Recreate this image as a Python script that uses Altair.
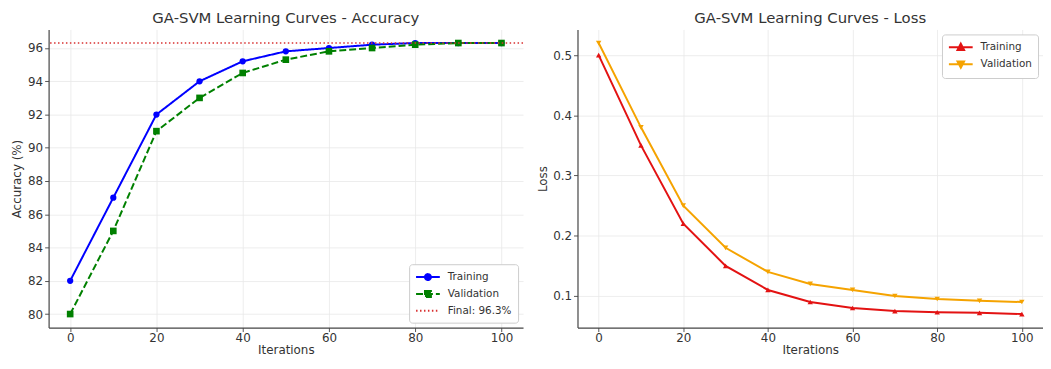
import altair as alt
import pandas as pd

# ---------------- data ----------------
iterations = [0, 10, 20, 30, 40, 50, 60, 70, 80, 90, 100]
acc_train = [82.0, 87.0, 92.0, 94.0, 95.2, 95.8, 96.0, 96.2, 96.3, 96.3, 96.3]
acc_val = [80.0, 85.0, 91.0, 93.0, 94.5, 95.3, 95.8, 96.0, 96.2, 96.3, 96.3]
final_acc = [96.3]
loss_train = [0.50, 0.35, 0.22, 0.15, 0.11, 0.09, 0.08, 0.075, 0.073, 0.072, 0.07]
loss_val = [0.52, 0.38, 0.25, 0.18, 0.14, 0.12, 0.11, 0.10, 0.095, 0.092, 0.09]

x_ticks = [0, 20, 40, 60, 80, 100]
acc_ticks = [80, 82, 84, 86, 88, 90, 92, 94, 96]
loss_ticks = [0.1, 0.2, 0.3, 0.4, 0.5]

acc_series = ["Training", "Validation", "Final: 96.3%"]
loss_series = ["Training", "Validation"]

FONT = "DejaVu Sans"
TXT = "#333333"

acc_df = pd.DataFrame({
    "it": iterations * 2,
    "value": acc_train + acc_val,
    "series": ["Training"] * len(iterations) + ["Validation"] * len(iterations),
})
final_df = pd.DataFrame({"value": final_acc, "series": [acc_series[2]]})
loss_df = pd.DataFrame({
    "it": iterations * 2,
    "value": loss_train + loss_val,
    "series": ["Training"] * len(iterations) + ["Validation"] * len(iterations),
})

# legend glyphs: line segment + marker (path units scaled by sqrt(size)/2)
P_CIRCLE = "M-1,0H3M1.5,0A0.5,0.5,0,1,1,0.5,0A0.5,0.5,0,1,1,1.5,0Z"
P_SQUARE = "M-1,0H3M0.5,-0.5H1.5V0.5H0.5Z"
P_LINE = "M-1,0H3"
P_TUP = "M-1,0H3M1,-0.6L1.55,0.45H0.45Z"
P_TDOWN = "M-1,0H3M1,0.6L1.55,-0.45H0.45Z"

PLOT_H = 301


def make_legend(orient):
    return alt.Legend(
        title=None, orient=orient, offset=5, padding=6,
        fillColor="white", strokeColor="#cccccc", cornerRadius=3,
        labelFont=FONT, labelFontSize=10.5, labelColor=TXT,
        labelOffset=19, symbolSize=144, symbolStrokeWidth=2,
        rowPadding=3,
    )


x_enc = alt.X("it:Q", title="Iterations",
              scale=alt.Scale(domain=[-5, 105], nice=False, zero=False),
              axis=alt.Axis(values=x_ticks))

# ---------------- accuracy panel ----------------
acc_colors = ["#0000ff", "#008000", "#d83030"]
acc_dash = [[1, 0], [7, 3], [1.5, 2.5]]
acc_y = alt.Y("value:Q", title="Accuracy (%)",
              scale=alt.Scale(domain=[79.185, 97.115], nice=False, zero=False),
              axis=alt.Axis(values=acc_ticks, minExtent=21, maxExtent=21, titlePadding=4))
acc_leg = make_legend("bottom-right")
acc_color = alt.Color("series:N", scale=alt.Scale(domain=acc_series, range=acc_colors), legend=acc_leg)
acc_sdash = alt.StrokeDash("series:N", scale=alt.Scale(domain=acc_series, range=acc_dash), legend=acc_leg)
acc_shape = alt.Shape("series:N", scale=alt.Scale(domain=acc_series, range=[P_CIRCLE, P_SQUARE, P_LINE]), legend=acc_leg)

base_acc = alt.Chart(acc_df)
acc_lines = base_acc.mark_line(strokeWidth=2).encode(x=x_enc, y=acc_y, color=acc_color, strokeDash=acc_sdash)
acc_pts_t = base_acc.transform_filter(alt.datum.series == "Training").mark_point(
    shape="circle", filled=True, size=40, opacity=1).encode(x=x_enc, y=acc_y, color=acc_color)
acc_pts_v = base_acc.transform_filter(alt.datum.series == "Validation").mark_point(
    shape="square", filled=True, size=45, opacity=1).encode(x=x_enc, y=acc_y, color=acc_color)
acc_rule = alt.Chart(final_df).mark_rule(strokeWidth=1.6).encode(
    y=acc_y, color=acc_color, strokeDash=acc_sdash)
acc_legend_layer = base_acc.transform_filter("false").mark_point(filled=True, opacity=1).encode(
    x=x_enc, y=acc_y, color=acc_color, strokeDash=acc_sdash, shape=acc_shape)

acc_chart = alt.layer(acc_lines, acc_pts_t, acc_pts_v, acc_rule, acc_legend_layer).properties(
    width=479, height=PLOT_H,
    title=alt.TitleParams("GA-SVM Learning Curves - Accuracy", font=FONT, fontSize=15,
                          fontWeight="normal", color=TXT, offset=4, anchor="middle"),
)

# ---------------- loss panel ----------------
loss_colors = ["#e31212", "#f5a300"]
loss_y = alt.Y("value:Q", title="Loss",
               scale=alt.Scale(domain=[0.0475, 0.5425], nice=False, zero=False),
               axis=alt.Axis(values=loss_ticks, format=".1f", minExtent=25, maxExtent=25, titlePadding=3))
loss_leg = make_legend("top-right")
loss_color = alt.Color("series:N", scale=alt.Scale(domain=loss_series, range=loss_colors), legend=loss_leg)
loss_shape = alt.Shape("series:N", scale=alt.Scale(domain=loss_series, range=[P_TUP, P_TDOWN]), legend=loss_leg)

base_loss = alt.Chart(loss_df)
loss_lines = base_loss.mark_line(strokeWidth=2).encode(x=x_enc, y=loss_y, color=loss_color)
loss_pts_t = base_loss.transform_filter(alt.datum.series == "Training").mark_point(
    shape="triangle-up", filled=True, size=30, opacity=1).encode(x=x_enc, y=loss_y, color=loss_color)
loss_pts_v = base_loss.transform_filter(alt.datum.series == "Validation").mark_point(
    shape="triangle-down", filled=True, size=30, opacity=1).encode(x=x_enc, y=loss_y, color=loss_color)
loss_legend_layer = base_loss.transform_filter("false").mark_point(filled=True, opacity=1).encode(
    x=x_enc, y=loss_y, color=loss_color, shape=loss_shape)

loss_chart = alt.layer(loss_lines, loss_pts_t, loss_pts_v, loss_legend_layer).properties(
    width=470, height=PLOT_H,
    title=alt.TitleParams("GA-SVM Learning Curves - Loss", font=FONT, fontSize=15,
                          fontWeight="normal", color=TXT, offset=4, anchor="middle"),
)

chart = alt.hconcat(acc_chart, loss_chart, spacing=13).resolve_scale(
    color="independent", shape="independent", strokeDash="independent",
    x="independent", y="independent",
).resolve_legend(
    color="independent", shape="independent", strokeDash="independent",
).properties(
    padding={"left": 3, "top": 1, "right": 0, "bottom": 0}
).configure_view(stroke=None).configure_axis(
    labelFont=FONT, labelFontSize=12, labelColor=TXT,
    titleFont=FONT, titleFontSize=12, titleFontWeight="normal", titleColor=TXT,
    domainColor="#444444", domainWidth=1.2, tickColor="#555555", tickSize=4,
    gridColor="#e8e8e8", gridWidth=0.8, labelPadding=2,
).configure_axisX(labelPadding=1, titlePadding=1).configure_legend(symbolLimit=0)

chart.save("out.html", embed_options={"renderer": "svg", "actions": False})
